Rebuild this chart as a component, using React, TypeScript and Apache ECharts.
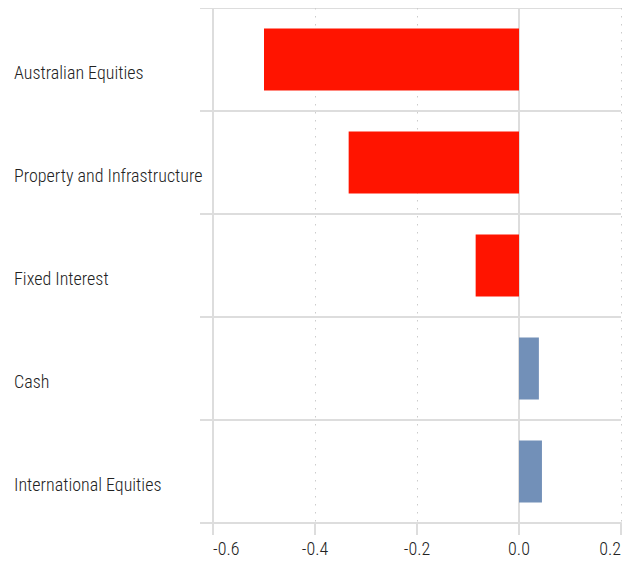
import React, { useEffect, useRef } from "react";
import * as echarts from "echarts";

const categories = [
  "Australian Equities",
  "Property and Infrastructure",
  "Fixed Interest",
  "Cash",
  "International Equities",
];
const values = [-0.5, -0.334, -0.085, 0.039, 0.045];
const xTicks = { min: -0.6, max: 0.2, interval: 0.2 };

const NEG = "#ff1400";
const POS = "#7290b8";
const LINE = "#dddddd";
const FONT = "'Roboto Condensed', 'Roboto', sans-serif";

export default function App() {
  const ref = useRef<HTMLDivElement>(null);
  useEffect(() => {
    const chart = echarts.init(ref.current!, null, { renderer: "svg" });
    chart.setOption({
      animation: false,
      grid: { left: 213, right: 15, top: 8, bottom: 38 },
      xAxis: {
        type: "value",
        min: xTicks.min,
        max: xTicks.max,
        interval: xTicks.interval,
        axisLine: { show: true, onZero: false, lineStyle: { color: LINE, width: 2 } },
        axisTick: { show: true, length: 12, lineStyle: { color: LINE, width: 2 } },
        splitLine: { show: true, lineStyle: { color: "#cccccc", width: 1, type: [1.5, 6.5] } },
        axisLabel: {
          fontFamily: FONT,
          fontSize: 18,
          fontWeight: 300,
          color: "#222",
          margin: 16,
          alignMinLabel: "left",
          alignMaxLabel: "right",
          formatter: (v: number) => v.toFixed(1),
        },
      },
      yAxis: {
        type: "category",
        inverse: true,
        data: categories,
        axisLine: { show: true, onZero: false, lineStyle: { color: LINE, width: 2 } },
        axisTick: { show: true, length: 13, lineStyle: { color: LINE, width: 2 } },
        splitLine: { show: true, lineStyle: { color: LINE, width: 2 } },
        axisLabel: {
          fontFamily: FONT,
          fontSize: 18,
          fontWeight: 300,
          color: "#222",
          align: "left",
          verticalAlign: "top",
          lineHeight: 26,
          margin: 199,
        },
      },
      series: [
        {
          type: "bar",
          barWidth: "60%",
          z: 3,
          data: values.map((v) => ({ value: v, itemStyle: { color: v < 0 ? NEG : POS } })),
          markLine: {
            silent: true,
            symbol: "none",
            z: 1,
            label: { show: false },
            lineStyle: { color: LINE, width: 2, type: "solid" },
            data: [{ xAxis: 0 }],
          },
        },
      ],
    });
    return () => chart.dispose();
  }, []);
  return <div ref={ref} style={{ width: 636, height: 561, marginLeft: -8, marginTop: -8 }} />;
}
